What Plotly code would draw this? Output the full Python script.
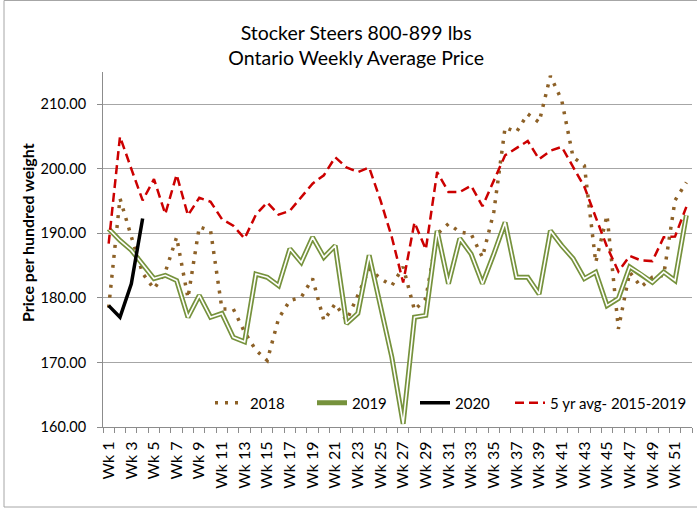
import plotly.graph_objects as go

weeks = list(range(1, 53))
week_labels = ["Wk 1", "Wk 2", "Wk 3", "Wk 4", "Wk 5", "Wk 6", "Wk 7", "Wk 8", "Wk 9", "Wk 10",
               "Wk 11", "Wk 12", "Wk 13", "Wk 14", "Wk 15", "Wk 16", "Wk 17", "Wk 18", "Wk 19", "Wk 20",
               "Wk 21", "Wk 22", "Wk 23", "Wk 24", "Wk 25", "Wk 26", "Wk 27", "Wk 28", "Wk 29", "Wk 30",
               "Wk 31", "Wk 32", "Wk 33", "Wk 34", "Wk 35", "Wk 36", "Wk 37", "Wk 38", "Wk 39", "Wk 40",
               "Wk 41", "Wk 42", "Wk 43", "Wk 44", "Wk 45", "Wk 46", "Wk 47", "Wk 48", "Wk 49", "Wk 50",
               "Wk 51", "Wk 52"]

price_2018 = [178.5, 195.4, 189.5, 183.8, 181.4, 184.0, 189.4, 180.0, 191.0, 190.4,
              178.3, 178.3, 174.7, 171.9, 170.3, 176.8, 179.6, 180.1, 183.0, 176.5,
              179.1, 176.5, 180.4, 184.5, 183.0, 181.9, 184.8, 178.1, 179.9, 189.9,
              191.5, 190.2, 189.9, 186.3, 193.3, 206.4, 205.7, 208.5, 207.2, 214.4,
              210.6, 201.8, 200.5, 185.5, 192.8, 175.2, 184.0, 181.7, 183.2, 183.5,
              195.1, 197.9]

price_2019 = [190.7, 188.9, 187.4, 185.2, 183.0, 183.5, 182.7, 177.0, 180.4, 177.0,
              177.6, 173.9, 173.2, 183.7, 183.2, 181.9, 187.6, 185.5, 189.4, 186.3,
              188.1, 176.0, 177.6, 186.6, 178.6, 170.8, 160.5, 177.0, 177.3, 190.4,
              182.2, 189.2, 186.8, 182.2, 186.8, 191.7, 183.2, 183.2, 180.6, 190.4,
              188.1, 186.1, 183.0, 184.0, 178.8, 179.9, 184.8, 183.7, 182.4, 184.0,
              182.7, 192.8]

price_2020 = [178.8, 177.0, 182.2, 192.3]

avg_5yr = [188.4, 205.0, 200.0, 195.1, 198.4, 193.0, 199.1, 192.8, 195.5, 194.9,
           192.2, 191.2, 189.2, 192.9, 194.8, 192.9, 193.5, 195.6, 197.7, 199.0,
           201.8, 200.2, 199.5, 200.2, 195.1, 189.4, 182.4, 191.7, 187.5, 199.5,
           196.4, 196.4, 197.4, 194.2, 198.2, 202.1, 203.2, 204.3, 201.5, 202.8,
           203.4, 200.2, 197.2, 192.5, 187.9, 184.1, 186.5, 185.8, 185.7, 189.4,
           189.5, 194.1]

y_ticks = [160, 170, 180, 190, 200, 210]

FONT = "Lato"
OLIVE = "#76923C"
BROWN = "#8D6127"
RED = "#CC0000"
GRID = "#A6A6A6"
AXIS = "#8C8C8C"
W, H = 697, 508
PL, PR, PT, PB = 103, 692, 72, 427   # plot-area edges in pixels
PW, PH = PR - PL, PB - PT

fig = go.Figure()

fig.add_trace(go.Scatter(x=weeks, y=price_2018, name="2018", mode="lines", legend="legend",
                         line=dict(color=BROWN, width=3.5, dash="3px,7px")))
fig.add_trace(go.Scatter(x=weeks, y=price_2019, name="2019", mode="lines", legend="legend2",
                         line=dict(color=OLIVE, width=5)))
fig.add_trace(go.Scatter(x=weeks, y=price_2019, name="2019", mode="lines", legend="legend2",
                         showlegend=False, hoverinfo="skip",
                         line=dict(color="white", width=1.6)))
fig.add_trace(go.Scatter(x=weeks[:len(price_2020)], y=price_2020, name="2020", mode="lines",
                         legend="legend3", line=dict(color="black", width=3.5)))
fig.add_trace(go.Scatter(x=weeks, y=avg_5yr, name="5 yr avg- 2015-2019", mode="lines",
                         legend="legend4", line=dict(color=RED, width=2.5, dash="9px,5px")))

odd_weeks = weeks[::2]
odd_labels = week_labels[::2]
boundaries = [w - 0.5 for w in weeks] + [weeks[-1] + 0.5]


def legend_at(px, anchor="left"):
    return dict(orientation="h", x=(px - PL) / PW, xanchor=anchor,
                y=(PB - 403) / PH, yanchor="middle",
                bgcolor="rgba(0,0,0,0)", borderwidth=0,
                font=dict(family=FONT, size=15, color="black"))


fig.update_layout(
    template="none",
    width=W, height=H, autosize=False,
    margin=dict(l=PL, r=W - PR, t=PT, b=H - PB, pad=0),
    paper_bgcolor="white", plot_bgcolor="white",
    font=dict(family=FONT, size=15, color="black"),
    title=dict(text="Stocker Steers 800-899 lbs<br>Ontario Weekly Average Price",
               font=dict(family=FONT, size=19.5, color="black"),
               x=0.511, xref="container", xanchor="center",
               y=0.922, yref="container", yanchor="top"),
    xaxis=dict(range=[0.5, 52.5], tickmode="array", tickvals=odd_weeks, ticktext=odd_labels,
               tickangle=-90, showgrid=False, zeroline=False, showline=True,
               linecolor=AXIS, linewidth=1, ticks="outside", ticklen=7,
               tickcolor="rgba(0,0,0,0)", tickfont=dict(family=FONT, size=16, color="black"),
               minor=dict(tickmode="array", tickvals=boundaries, ticks="outside", ticklen=5,
                          tickcolor=AXIS, showgrid=False),
               automargin=False, fixedrange=True),
    yaxis=dict(range=[160, 215], tickmode="array", tickvals=y_ticks, tickformat=".2f",
               showgrid=True, gridcolor=GRID, gridwidth=1, zeroline=False,
               showline=True, linecolor=AXIS, linewidth=1, ticks="outside", ticklen=5,
               tickcolor=AXIS, tickfont=dict(family=FONT, size=14.5, color="black"),
               ticklabelstandoff=8,
               automargin=False, fixedrange=True),
    legend=legend_at(210),
    legend2=legend_at(312),
    legend3=legend_at(415),
    legend4=legend_at(PR, anchor="right"),
    showlegend=True,
    annotations=[dict(text="<b>Price per hundred weight</b>", textangle=-90,
                      xref="paper", yref="paper", x=(28 - PL) / PW, y=(PB - 233) / PH,
                      xanchor="center", yanchor="middle", showarrow=False,
                      font=dict(family=FONT, size=16, color="black"))],
    shapes=[dict(type="rect", xref="paper", yref="paper",
                 x0=(4 - PL) / PW, x1=(705 - PL) / PW,
                 y0=(PB - 507) / PH, y1=(PB - 0.5) / PH,
                 line=dict(color="#A6A6A6", width=1), fillcolor="rgba(0,0,0,0)", layer="below")],
)

fig.write_html("out.html", config={"displayModeBar": False},
               post_script="document.body.style.margin='0';")
